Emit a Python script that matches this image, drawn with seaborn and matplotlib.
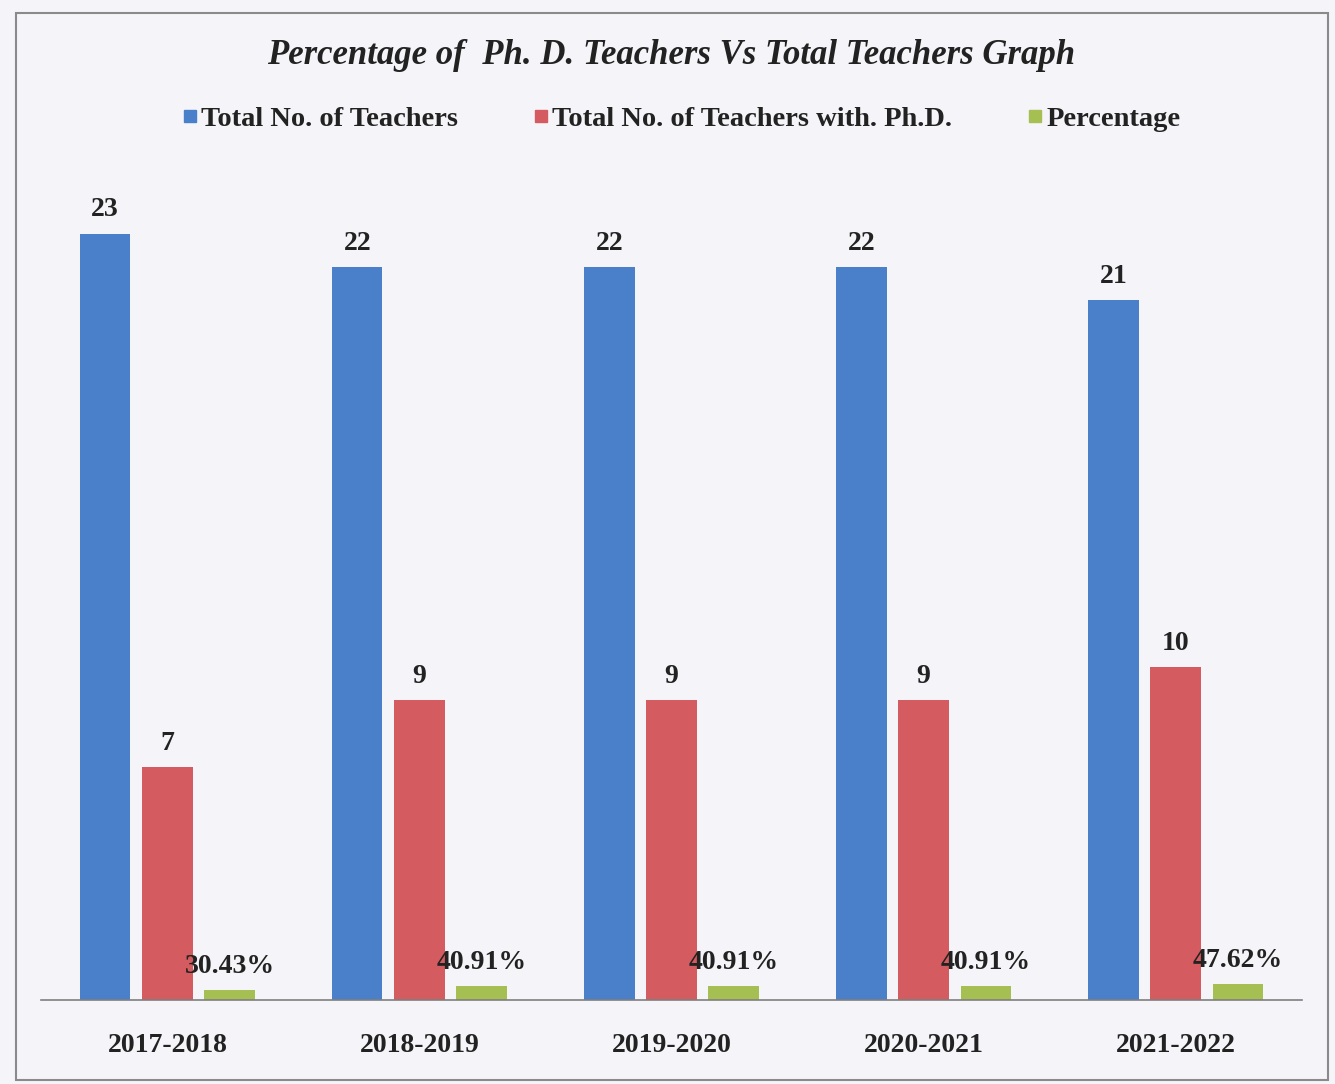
import matplotlib
matplotlib.use("Agg")
import matplotlib.pyplot as plt
import seaborn as sns
import pandas as pd
from matplotlib.lines import Line2D
from matplotlib.patches import Rectangle

years = ["2017-2018", "2018-2019", "2019-2020", "2020-2021", "2021-2022"]
total_teachers = [23, 22, 22, 22, 21]
phd_teachers = [7, 9, 9, 9, 10]
percentage = [0.3043, 0.4091, 0.4091, 0.4091, 0.4762]
percentage_labels = ["30.43%", "40.91%", "40.91%", "40.91%", "47.62%"]
series = ["Total No. of Teachers", "Total No. of Teachers with. Ph.D.", "Percentage"]
colors = ["#4a7fc9", "#d45b5f", "#a6bf52"]

rows = []
for i, y in enumerate(years):
    rows.append((y, series[0], total_teachers[i]))
    rows.append((y, series[1], phd_teachers[i]))
    rows.append((y, series[2], percentage[i]))
df = pd.DataFrame(rows, columns=["Year", "Series", "Value"])

sns.set_theme(style="white")
plt.rcParams["font.family"] = ["Liberation Serif", "DejaVu Serif"]

bg = "#f5f5f9"
fig = plt.figure(figsize=(13.35, 10.84), dpi=100, facecolor=bg)
fig.patches.append(Rectangle((0.012, 0.004), 0.983, 0.984, transform=fig.transFigure,
                             fill=False, edgecolor="#8a8a8a", linewidth=1.5))
ax = fig.add_axes([0.031, 0.0775, 0.944, 0.7655])
ax.set_facecolor(bg)

sns.barplot(data=df, x="Year", y="Value", hue="Series", order=years, hue_order=series,
            palette=colors, width=0.74, gap=0.19, saturation=1, legend=False,
            linewidth=0, ax=ax)

ax.set_ylim(0, 24.9)
ax.set_xlim(-0.5, 4.5)
ax.set_xlabel("")
ax.set_ylabel("")
ax.set_yticks([])
for s in ["left", "right", "top"]:
    ax.spines[s].set_visible(False)
ax.spines["bottom"].set_color("#7f7f7f")
ax.spines["bottom"].set_linewidth(1.2)
ax.tick_params(axis="x", length=0, pad=24)
for lab in ax.get_xticklabels():
    lab.set_fontsize(20)
    lab.set_fontweight("bold")
    lab.set_color("#222222")

conts = ax.containers
ax.bar_label(conts[0], labels=[str(v) for v in total_teachers], padding=8,
             fontsize=20, fontweight="bold", color="#222222")
ax.bar_label(conts[1], labels=[str(v) for v in phd_teachers], padding=8,
             fontsize=20, fontweight="bold", color="#222222")
ax.bar_label(conts[2], labels=percentage_labels, padding=8,
             fontsize=20, fontweight="bold", color="#222222")

fig.text(0.503, 0.949, "Percentage of  Ph. D. Teachers Vs Total Teachers Graph",
         ha="center", va="center", fontsize=25, fontweight="bold", style="italic",
         color="#222222")

handles = [Line2D([0], [0], marker="s", linestyle="none", markersize=8,
                  markerfacecolor=c, markeredgecolor=c) for c in colors]
fig.legend(handles, series, loc="center", bbox_to_anchor=(0.510, 0.890), ncol=3,
           frameon=False, prop={"family": "Liberation Serif", "weight": "bold", "size": 20.5},
           handletextpad=0.1, columnspacing=2.6, handlelength=0.6, labelcolor="#222222")

fig.savefig("out.png", dpi=100, facecolor=bg)
